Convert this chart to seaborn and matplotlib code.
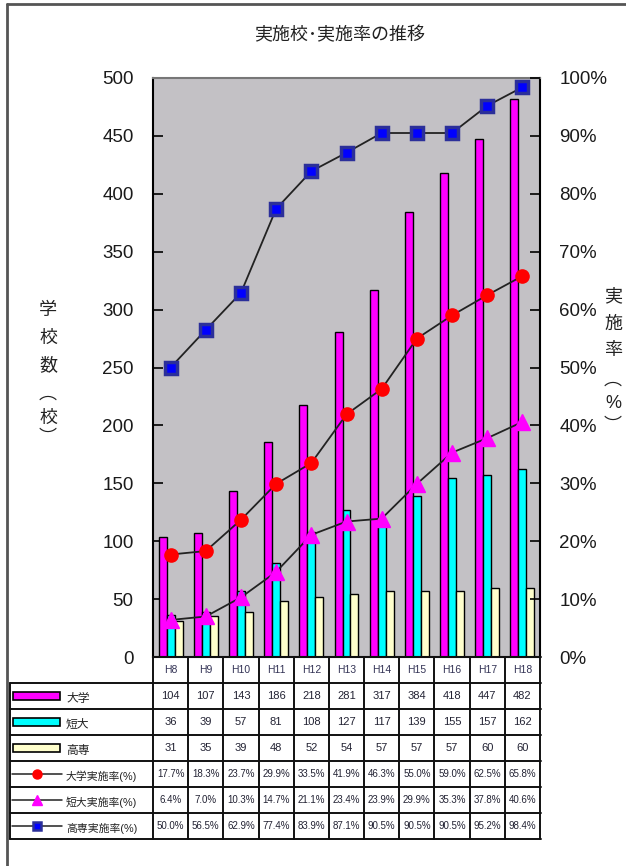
import numpy as np
import pandas as pd
import matplotlib
matplotlib.use("Agg")
import matplotlib.pyplot as plt
from matplotlib.patches import Rectangle
from matplotlib.lines import Line2D
import seaborn as sns

# ---------------- data ----------------
years = ["H8", "H9", "H10", "H11", "H12", "H13", "H14", "H15", "H16", "H17", "H18"]
univ = [104, 107, 143, 186, 218, 281, 317, 384, 418, 447, 482]
junior = [36, 39, 57, 81, 108, 127, 117, 139, 155, 157, 162]
kosen = [31, 35, 39, 48, 52, 54, 57, 57, 57, 60, 60]
univ_rate = [17.7, 18.3, 23.7, 29.9, 33.5, 41.9, 46.3, 55.0, 59.0, 62.5, 65.8]
junior_rate = [6.4, 7.0, 10.3, 14.7, 21.1, 23.4, 23.9, 29.9, 35.3, 37.8, 40.6]
kosen_rate = [50.0, 56.5, 62.9, 77.4, 83.9, 87.1, 90.5, 90.5, 90.5, 95.2, 98.4]
bar_names = ["大学", "短大", "高専"]
rate_names = ["大学実施率(%)", "短大実施率(%)", "高専実施率(%)"]
title = "実施校･実施率の推移"
left_label = ["学", "校", "数", "︵", "校", "︶"]
right_label = ["実", "施", "率", "︵", "%", "︶"]
left_ticks = list(range(0, 501, 50))
right_ticks = list(range(0, 101, 10))

# ---------------- style ----------------
sns.set_theme(style="white")
plt.rcParams["font.family"] = ["Liberation Sans", "Noto Sans CJK JP", "DejaVu Sans"]

W, H = 626, 866
fig = plt.figure(figsize=(W / 100, H / 100), dpi=100)
fig.patch.set_facecolor("white")

L, R, T, B = 153, 540, 78, 657
ax = fig.add_axes([L / W, 1 - B / H, (R - L) / W, (B - T) / H])
ax.set_facecolor("#C3C1C5")

bar_colors = ["#FF00FF", "#00FFFF", "#FFFFCC"]
df = pd.DataFrame({
    "year": years * 3,
    "count": univ + junior + kosen,
    "type": [bar_names[0]] * len(years) + [bar_names[1]] * len(years) + [bar_names[2]] * len(years),
})
sns.barplot(data=df, x="year", y="count", hue="type", order=years, hue_order=bar_names,
            palette=bar_colors, width=0.68, edgecolor="black", linewidth=1.0,
            errorbar=None, legend=False, ax=ax, saturation=1)
ax.set_xlim(-0.5, len(years) - 0.5)
ax.set_ylim(0, 500)
ax.set_yticks(left_ticks)
ax.set_yticklabels([str(t) for t in left_ticks], fontsize=13.5, color="#1a1a1a")
ax.tick_params(axis="y", direction="in", length=7, width=1.2, pad=14, color="black")
ax.tick_params(axis="x", length=0, labelbottom=False)
ax.set_xlabel("")
ax.set_ylabel("")
for s in ax.spines.values():
    s.set_color("black")
    s.set_linewidth(1.5)
ax.spines["top"].set_color("#777777")

ax2 = ax.twinx()
ax2.set_ylim(0, 100)
xs = np.arange(len(years))
sns.lineplot(x=xs, y=univ_rate, ax=ax2, color="#222222", linewidth=1.3, marker="o",
             markersize=9.5, markerfacecolor="#FF0000", markeredgecolor="#FF0000", markeredgewidth=1)
sns.lineplot(x=xs, y=junior_rate, ax=ax2, color="#222222", linewidth=1.3, marker="^",
             markersize=11, markerfacecolor="#FF00FF", markeredgecolor="#FF00FF", markeredgewidth=1)
sns.lineplot(x=xs, y=kosen_rate, ax=ax2, color="#222222", linewidth=1.3, marker="s",
             markersize=8.5, markerfacecolor="#0000FF", markeredgecolor="#2B2F9A", markeredgewidth=2.5)
ax2.set_xlim(-0.5, len(years) - 0.5)
ax2.set_yticks(right_ticks)
ax2.set_yticklabels([f"{t}%" for t in right_ticks], fontsize=13.5, color="#1a1a1a")
ax2.tick_params(axis="y", direction="in", length=7, width=1.2, pad=14, color="black")
ax2.set_ylabel("")
for s in ax2.spines.values():
    s.set_visible(False)

# ---------------- titles / axis labels ----------------
fig.text(340 / W, 1 - 36 / H, title, ha="center", va="center", fontsize=13, color="#222222")
for ch, yp in zip(left_label, [310, 338, 366, 394, 418, 438]):
    fig.text(48 / W, 1 - yp / H, ch, ha="center", va="center", fontsize=13, color="#222222")
for ch, yp in zip(right_label, [297, 324, 351, 380, 404, 426]):
    fig.text(613 / W, 1 - yp / H, ch, ha="center", va="center", fontsize=13, color="#222222")

# ---------------- data table ----------------
n = len(years)
TL, TR, TT, TB = 10, 541, 657, 839
unit = (R - L) / n
xmin = -0.5 - (L - TL) / unit
xmax = n - 0.5 + (TR - R) / unit
tax = fig.add_axes([TL / W, 1 - TB / H, (TR - TL) / W, (TB - TT) / H])
tax.set_xlim(xmin, xmax)
tax.set_ylim(7, 0)
tax.axis("off")

def px(xp):
    return xmin + (xp - TL) / unit

lc = "#111111"
lw = 1.4
tax.plot([-0.5, xmax], [0, 0], color=lc, lw=lw, clip_on=False)
for r in range(1, 8):
    tax.plot([xmin, xmax], [r, r], color=lc, lw=lw, clip_on=False)
tax.plot([xmin, xmin], [1, 7], color=lc, lw=lw, clip_on=False)
for i in range(n + 1):
    tax.plot([i - 0.5, i - 0.5], [0, 7], color=lc, lw=lw, clip_on=False)

for i, y in enumerate(years):
    tax.text(i, 0.5, y, ha="center", va="center", fontsize=7.5, color="#333355")

rows = [univ, junior, kosen]
for r, vals in enumerate(rows):
    for i, v in enumerate(vals):
        tax.text(i, r + 1.5, str(v), ha="center", va="center", fontsize=8, color="#222233")
rates = [univ_rate, junior_rate, kosen_rate]
for r, vals in enumerate(rates):
    for i, v in enumerate(vals):
        tax.text(i, r + 4.5, f"{v:.1f}%", ha="center", va="center", fontsize=7, color="#222233")

# legend keys in the row headers
for r, (name, col) in enumerate(zip(bar_names, bar_colors)):
    yc = r + 1.5
    tax.add_patch(Rectangle((px(13), yc - 0.14), px(60) - px(13), 0.28,
                            facecolor=col, edgecolor="black", lw=1.2))
    tax.text(px(66), yc + 0.1, name, ha="left", va="center", fontsize=8.5, color="#222222")

mk = [("o", "#FF0000", "#FF0000", 6.5, 1), ("^", "#FF00FF", "#FF00FF", 7.5, 1),
      ("s", "#0000FF", "#2B2F9A", 6, 1.8)]
for r, (name, (m, fc, ec, ms, mew)) in enumerate(zip(rate_names, mk)):
    yc = r + 4.5
    tax.plot([px(12), px(62)], [yc, yc], color="#222222", lw=1.1)
    tax.plot([px(37)], [yc], marker=m, markersize=ms, markerfacecolor=fc,
             markeredgecolor=ec, markeredgewidth=mew, linestyle="none")
    tax.text(px(66), yc + 0.1, name, ha="left", va="center", fontsize=7.8, color="#222222")

# page frame
fig.add_artist(Line2D([7 / W, 7 / W], [0, 1 - 4 / H], transform=fig.transFigure,
                      color="#555555", lw=2))
fig.add_artist(Line2D([7 / W, 1], [1 - 4 / H, 1 - 4 / H], transform=fig.transFigure,
                      color="#555555", lw=2))

fig.savefig("out.png", dpi=100, facecolor="white")
